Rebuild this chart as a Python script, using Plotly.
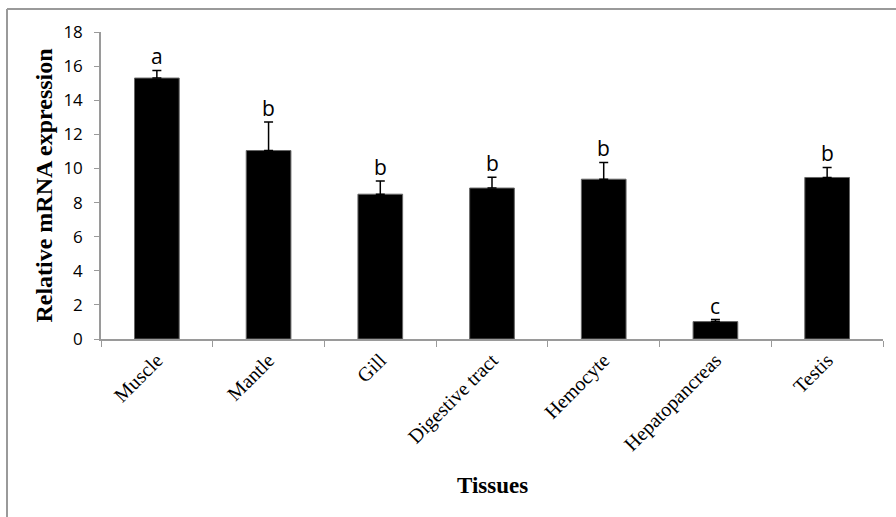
import plotly.graph_objects as go

tissues = ["Muscle", "Mantle", "Gill", "Digestive tract", "Hemocyte", "Hepatopancreas", "Testis"]
expression = [15.3, 11.05, 8.49, 8.85, 9.37, 1.02, 9.47]
errors = [0.45, 1.68, 0.77, 0.64, 0.98, 0.12, 0.59]
letters = ["a", "b", "b", "b", "b", "c", "b"]
y_ticks = [0, 2, 4, 6, 8, 10, 12, 14, 16, 18]

W, H = 896, 517
ML, MR, MT, MB = 101, 13, 32, 178

fig = go.Figure()
fig.add_trace(go.Bar(
    x=tissues, y=expression, width=0.4,
    marker=dict(color="black", line=dict(color="#666666", width=1)),
    error_y=dict(type="data", array=errors, symmetric=False, arrayminus=[0]*len(errors),
                 color="black", thickness=1.5, width=4.5),
))

for t, v, e, l in zip(tissues, expression, errors, letters):
    fig.add_annotation(x=t, y=v + e, text=l, showarrow=False, yanchor="bottom", yshift=-2,
                       font=dict(family="Open Sans, Liberation Sans, sans-serif", size=21, color="black"))

gray = "#9a9a9a"
pw = W - ML - MR
ph = H - MT - MB
# outer frame: top and left lines
fig.add_shape(type="line", xref="paper", yref="paper",
              x0=(7 - ML) / pw, x1=(W + 5 - ML) / pw, y0=(H - MB - 9) / ph, y1=(H - MB - 9) / ph,
              line=dict(color=gray, width=2))
fig.add_shape(type="line", xref="paper", yref="paper",
              x0=(7 - ML) / pw, x1=(7 - ML) / pw, y0=(H - MB - 9) / ph, y1=(-MB - 5) / ph,
              line=dict(color=gray, width=2))

fig.add_annotation(xref="paper", yref="paper", x=(492 - ML) / pw, y=(H - MB - 485) / ph,
                   text="<b>Tissues</b>", showarrow=False, yanchor="middle",
                   font=dict(family="Liberation Serif, serif", size=23, color="black"))

fig.update_layout(
    width=W, height=H,
    margin=dict(l=ML, r=MR, t=MT, b=MB),
    plot_bgcolor="white", paper_bgcolor="white",
    showlegend=False,
    xaxis=dict(
        showline=True, linecolor=gray, linewidth=1.5,
        ticks="outside", tickson="boundaries", tickcolor=gray, ticklen=6,
        tickangle=-45,
        tickfont=dict(family="Liberation Serif, serif", size=20, color="black"),
        showgrid=False,
    ),
    yaxis=dict(
        range=[0, 18], tickvals=y_ticks,
        showline=True, linecolor=gray, linewidth=1.5,
        ticks="outside", tickcolor=gray, ticklen=5, ticklabelstandoff=8,
        tickfont=dict(family="Open Sans, Liberation Sans, sans-serif", size=17, color="black"),
        showgrid=False, zeroline=False,
        title=dict(text="<b>Relative mRNA expression</b>", standoff=4,
                   font=dict(family="Liberation Serif, serif", size=24, color="black")),
    ),
)

fig.write_html("out.html", config={"displayModeBar": False},
               post_script="document.body.style.margin='0';document.body.style.overflow='hidden';")
